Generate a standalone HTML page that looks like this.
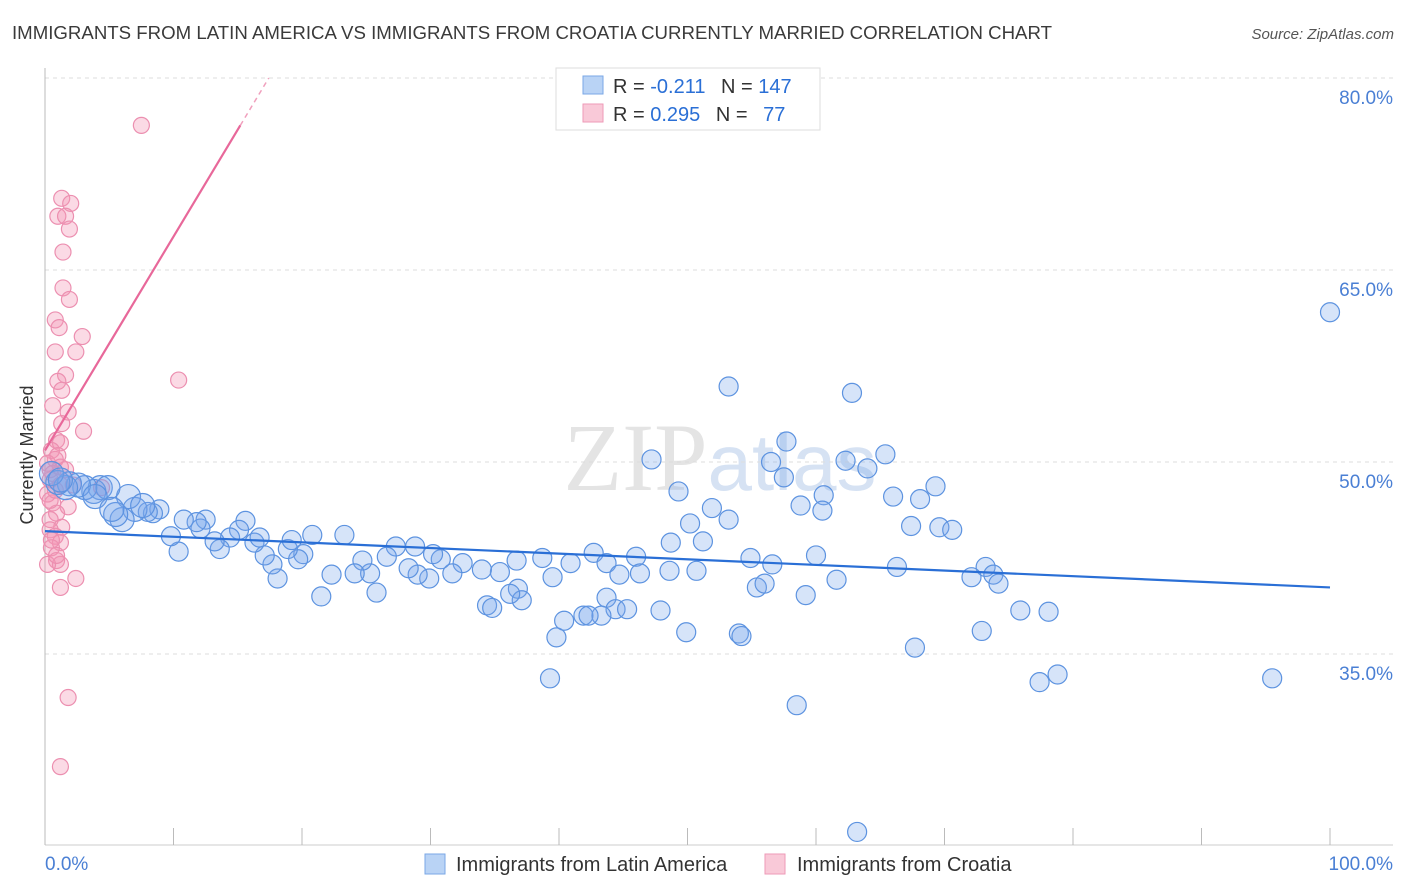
<!DOCTYPE html>
<html><head><meta charset="utf-8"><style>
body{margin:0;background:#fff;font-family:"Liberation Sans",sans-serif;}
svg{display:block}
</style></head><body>
<svg id="chart" width="1406" height="892" viewBox="0 0 1406 892" xmlns="http://www.w3.org/2000/svg">
<text x="12" y="39" font-size="18" fill="#3a3a3a" textLength="1040" lengthAdjust="spacingAndGlyphs">IMMIGRANTS FROM LATIN AMERICA VS IMMIGRANTS FROM CROATIA CURRENTLY MARRIED CORRELATION CHART</text>
<text x="1394" y="39" font-size="15" fill="#555" font-style="italic" text-anchor="end">Source: ZipAtlas.com</text>
<text x="720" y="490" font-size="96" fill="#e4e4e4" text-anchor="middle" font-family="Liberation Serif, serif">ZIP<tspan fill="#d6e2f3" font-family="Liberation Sans, sans-serif" font-size="80">atlas</tspan></text>
<g id="grid"></g>
<g id="axes"></g>
<g id="pink"></g>
<g id="blue"></g>
<g id="lines"></g>
<text transform="translate(33,455) rotate(-90)" font-size="18" fill="#333" text-anchor="middle">Currently Married</text>
<text x="45" y="870" font-size="19" fill="#4a7fd4">0.0%</text>
<text x="1393" y="870" font-size="19" fill="#4a7fd4" text-anchor="end">100.0%</text>
<g>
<rect x="556" y="68" width="264" height="62" fill="#fff" stroke="#ddd"/>
<rect x="583" y="76" width="20" height="18" fill="#b9d3f5" stroke="#7aa7e6"/>
<rect x="583" y="104" width="20" height="18" fill="#f9c9d8" stroke="#ee9ab7"/>
<text x="613" y="93" font-size="20" fill="#333">R = <tspan fill="#2a6fd6">-0.211</tspan>  <tspan dx="10">N = </tspan><tspan fill="#2a6fd6">147</tspan></text>
<text x="613" y="121" font-size="20" fill="#333">R = <tspan fill="#2a6fd6"> 0.295</tspan>  <tspan dx="10">N = </tspan><tspan fill="#2a6fd6" dx="10">77</tspan></text>
</g>
<g>
<rect x="425" y="854" width="20" height="20" fill="#b9d3f5" stroke="#7aa7e6"/>
<text x="456" y="871" font-size="20" fill="#333">Immigrants from Latin America</text>
</g>
<g>
<rect x="765" y="854" width="20" height="20" fill="#f9c9d8" stroke="#ee9ab7"/>
<text x="797" y="871" font-size="20" fill="#333">Immigrants from Croatia</text>
</g>
</svg>
<script>
const yTicks=[80,65,50,35];
const xTicks=[0,10,20,30,40,50,60,70,80,90,100];
const blueX=[100.0,53.2,62.8,57.7,47.2,56.5,62.3,64.0,65.4,57.5,49.3,60.6,66.0,69.3,68.1,58.8,51.9,60.5,50.2,53.2,67.4,69.6,70.6,48.7,51.2,54.9,60.0,56.6,66.3,73.2,73.8,72.1,74.2,46.0,42.7,43.7,44.7,46.3,48.6,50.7,38.7,36.7,36.8,39.5,40.9,43.7,44.4,45.3,43.3,41.9,42.3,47.9,49.9,54.0,54.2,55.4,56.0,59.2,61.6,75.9,78.1,72.9,67.7,77.4,78.8,95.5,58.5,39.3,63.2,39.8,40.4,37.1,36.2,34.4,34.8,35.4,34.0,32.5,31.7,30.8,29.9,30.2,29.0,28.3,28.8,27.3,26.6,25.8,25.3,24.7,23.3,24.1,22.3,21.5,20.8,20.1,19.7,18.9,19.2,18.1,17.7,17.1,16.3,16.7,15.6,15.1,14.4,13.6,13.2,12.5,12.1,11.8,10.8,10.4,9.8,8.9,8.4,8.0,7.0,6.5,6.0,5.5,4.3,3.8,3.1,2.6,1.9,1.6,1.0,0.5,1.2,4.9,3.9,5.2,7.6];
const blueY=[61.7,55.9,55.4,51.6,50.2,50.0,50.1,49.5,50.6,48.8,47.7,47.4,47.3,48.1,47.1,46.6,46.4,46.2,45.2,45.5,45.0,44.9,44.7,43.7,43.8,42.5,42.7,42.0,41.8,41.8,41.2,41.0,40.5,42.6,42.9,42.1,41.2,41.3,41.5,41.5,42.5,42.3,40.1,41.0,42.1,39.4,38.5,38.5,38.0,38.0,38.0,38.4,36.7,36.6,36.4,40.2,40.5,39.6,40.8,38.4,38.3,36.8,35.5,32.8,33.4,33.1,31.0,33.1,21.1,36.3,37.6,39.2,39.7,38.8,38.6,41.4,41.6,42.1,41.3,42.4,40.9,42.8,41.2,41.7,43.4,43.4,42.6,39.8,41.3,42.3,44.3,41.3,41.2,39.5,44.3,42.8,42.4,43.2,43.9,40.9,42.0,42.7,43.7,44.1,45.4,44.7,44.1,43.2,43.8,45.5,44.8,45.3,45.5,43.0,44.2,46.3,46.0,46.1,46.3,47.3,45.5,45.9,48.0,47.7,48.0,48.2,48.3,48.0,48.4,49.1,48.6,48.0,47.3,46.3,46.6];
const pinkX=[7.5,1.3,2.0,1.0,1.6,1.9,1.4,1.4,1.9,0.8,1.1,2.9,0.8,2.4,1.6,1.0,1.3,10.4,0.6,1.8,1.3,3.0,0.9,1.2,0.5,0.8,0.2,1.2,0.6,1.6,0.4,1.2,2.2,4.4,0.2,0.6,1.8,0.9,0.4,1.3,0.4,0.8,1.2,0.5,0.9,1.2,0.2,2.4,1.2,1.8,1.2,0.4,0.8,1.0,0.4,0.5,0.9];
const pinkY=[76.3,70.6,70.2,69.2,69.2,68.2,66.4,63.6,62.7,61.1,60.5,59.8,58.6,58.6,56.8,56.3,55.6,56.4,54.4,53.9,53.0,52.4,51.7,51.5,50.9,50.2,49.9,49.6,49.1,49.4,48.6,48.2,48.2,48.0,47.5,46.8,46.5,46.0,45.5,44.9,44.7,44.2,43.7,43.3,42.3,42.0,42.0,40.9,40.2,31.6,26.2,47.0,47.8,50.5,49.4,43.9,42.7];
const blueTrend=[44.6,40.2];
const pinkTrend=[50.9,76.3];
const NS="http://www.w3.org/2000/svg";
const sx=v=>45+v*12.85;
const sy=v=>78+(80-v)*12.8;
function mk(tag,attrs,parent){const e=document.createElementNS(NS,tag);for(const k in attrs)e.setAttribute(k,attrs[k]);parent.appendChild(e);return e;}
const grid=document.getElementById('grid'),axes=document.getElementById('axes');
yTicks.forEach(t=>{
 const l=mk('line',{x1:45,x2:1393,y1:sy(t),y2:sy(t),stroke:'#ddd','stroke-dasharray':'4,4'},grid);
 
 
 const tx=mk('text',{x:1393,y:sy(t)+26,'font-size':19,fill:'#4a7fd4','text-anchor':'end'},grid);
 tx.textContent=t.toFixed(1)+'%';
 
 
});
const ax=mk('line',{x1:45,x2:45,y1:68,y2:845,stroke:'#bbb'},axes);


const bx=mk('line',{x1:45,x2:1393,y1:845,y2:845,stroke:'#ccc'},axes);


xTicks.forEach(t=>{
 const l=mk('line',{x1:sx(t),x2:sx(t),y1:828,y2:845,stroke:'#bbb'},axes);
 
 
});
const pg=document.getElementById('pink');
pinkX.forEach((x,i)=>{
 const c=mk('circle',{cx:sx(x),cy:sy(pinkY[i]),r:8,fill:'rgba(244,150,180,0.35)',stroke:'#ec8fb0','stroke-width':1.2},pg);
 
 
});
const bg=document.getElementById('blue');
blueX.forEach((x,i)=>{
 const r=x<8?12:9.5;
 const c=mk('circle',{cx:sx(x),cy:sy(blueY[i]),r:r,fill:'rgba(120,165,235,0.3)',stroke:'#5d93e0','stroke-width':1.2},bg);
 
 
});
const lg=document.getElementById('lines');
const bl=mk('line',{x1:sx(0),y1:sy(blueTrend[0]),x2:sx(100),y2:sy(blueTrend[1]),stroke:'#2a6fd6','stroke-width':2.2},lg);


const slope=(pinkTrend[1]-pinkTrend[0])/15.2;
const pl=mk('line',{x1:sx(0),y1:sy(pinkTrend[0]),x2:sx(15.2),y2:sy(pinkTrend[1]),stroke:'#e8689a','stroke-width':2.2},lg);


const xe=15.2+(80-pinkTrend[1])/slope;
const pd=mk('line',{x1:sx(15.2),y1:sy(pinkTrend[1]),x2:sx(xe),y2:sy(80),stroke:'#f0a0bd','stroke-width':1.5,'stroke-dasharray':'5,4'},lg);


</script>
</body></html>
